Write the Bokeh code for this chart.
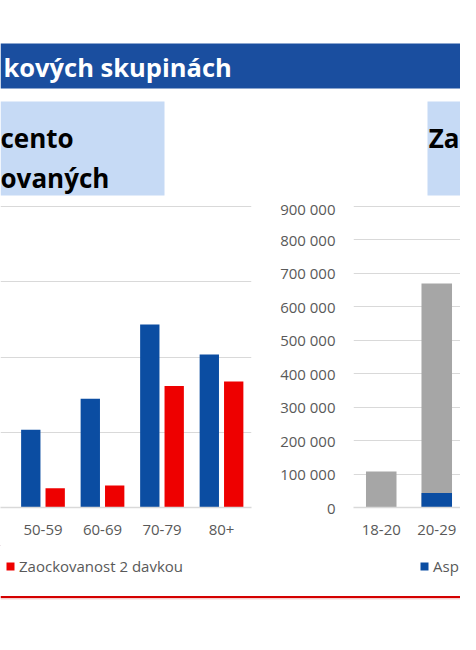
from bokeh.plotting import figure
from bokeh.models import (ColumnDataSource, Range1d, FixedTicker, Legend,
                          LegendItem, BoxAnnotation, Label, Span, Grid)
from bokeh.layouts import column, row
from bokeh.transform import dodge
from bokeh.embed import file_html
from bokeh.resources import INLINE

# ---------------- data ----------------
BANNER_TEXT = "kových skupinách"
LEFT_TITLE_1 = "cento"
LEFT_TITLE_2 = "ovaných"
RIGHT_TITLE = "Za"

LEFT_AGES = ["50-59", "60-69", "70-79", "80+"]
LEFT_DOSE1 = [25.8, 36.1, 60.8, 50.8]      # % (blue)
LEFT_DOSE2 = [6.4, 7.3, 40.4, 41.9]        # % (red)
LEFT_TICKS = [0, 25, 50, 75, 100]
LEFT_LEGEND = "Zaockovanost 2 davkou"

RIGHT_AGES = ["18-20", "20-29"]
RIGHT_POP = [108000, 670000]               # grey
RIGHT_DOSE1 = [0, 43000]                   # blue
RIGHT_TICKS = [0, 100000, 200000, 300000, 400000, 500000, 600000, 700000, 800000, 900000]
RIGHT_TICK_LABELS = ["0", "100 000", "200 000", "300 000", "400 000", "500 000",
                     "600 000", "700 000", "800 000", "900 000"]
RIGHT_LEGEND = "Asp"

# ---------------- style ----------------
BLUE = "#0B4DA2"
RED = "#EE0000"
GREY = "#A6A6A6"
GRIDC = "#D9D9D9"
TXT = "#595959"
BANNER = "#1A4E9F"
BOX = "#C6DAF5"
FONT = "Open Sans"


def blank(w, h, x0, x1, y0, y1):
    f = figure(width=w, height=h, x_range=Range1d(x0, x1), y_range=Range1d(y1, y0),
               x_axis_location=None, y_axis_location=None, toolbar_location=None,
               output_backend="svg", min_border=0)
    f.outline_line_color = None
    f.grid.visible = False
    return f


# ---------------- header ----------------
top = blank(460, 198, 0, 460, 0, 198)
top.add_layout(BoxAnnotation(left=0, right=460, top=43, bottom=88, fill_color=BANNER,
                             fill_alpha=1, line_color=None))
top.add_layout(Label(x=3, y=66, text=BANNER_TEXT, text_baseline="middle", text_color="white",
                     text_font=FONT, text_font_style="bold", text_font_size="25.5px"))
top.add_layout(BoxAnnotation(left=0, right=164, top=101, bottom=195, fill_color=BOX,
                             fill_alpha=1, line_color=None))
top.add_layout(BoxAnnotation(left=427, right=460, top=101, bottom=195, fill_color=BOX,
                             fill_alpha=1, line_color=None))
for txt, xx, yy, al in [(LEFT_TITLE_1, 0, 137, "left"), (LEFT_TITLE_2, 0, 177, "left"),
                        (RIGHT_TITLE, 459, 137, "right")]:
    top.add_layout(Label(x=xx, y=yy, text=txt, text_baseline="alphabetic", text_align=al,
                         text_color="black", text_font=FONT, text_font_style="bold",
                         text_font_size="26px"))


def style_xaxis(f, ticks, labels):
    ax = f.xaxis[0]
    ax.ticker = FixedTicker(ticks=ticks)
    ax.major_label_overrides = dict(zip(ticks, labels))
    ax.axis_line_color = GRIDC
    ax.axis_line_width = 1.5
    ax.major_tick_line_color = None
    ax.minor_tick_line_color = None
    ax.major_tick_out = 0
    ax.major_tick_in = 0
    ax.major_label_standoff = 17
    ax.major_label_text_font = FONT
    ax.major_label_text_font_size = "15px"
    ax.major_label_text_color = TXT


# ---------------- left chart ----------------
LX = list(range(len(LEFT_AGES)))
lsrc = ColumnDataSource(dict(x=LX, d1=LEFT_DOSE1, d2=LEFT_DOSE2))
left = figure(width=262, height=347, x_range=Range1d(-0.714, 3.504),
              y_range=Range1d(0, 100.35), y_axis_location=None, toolbar_location=None,
              output_backend="svg", min_border_left=0, min_border_right=11,
              min_border_top=7, min_border_bottom=38)
left.outline_line_color = None
left.grid.visible = False
left.add_layout(Grid(dimension=1, ticker=FixedTicker(ticks=LEFT_TICKS),
                     grid_line_color=GRIDC, grid_line_width=1.2))
left.vbar(x=dodge("x", -0.205), top="d1", width=0.325, source=lsrc,
          fill_color=BLUE, line_color=None)
left.vbar(x=dodge("x", 0.205), top="d2", width=0.325, source=lsrc,
          fill_color=RED, line_color=None)
style_xaxis(left, LX, LEFT_AGES)

# ---------------- right chart ----------------
RX = list(range(len(RIGHT_AGES)))
rsrc = ColumnDataSource(dict(x=RX, pop=RIGHT_POP, d1=RIGHT_DOSE1))
right = figure(width=198, height=347, x_range=Range1d(-0.5, 1.428),
               y_range=Range1d(0, 903000), toolbar_location=None, output_backend="svg",
               min_border_left=91, min_border_right=0, min_border_top=7, min_border_bottom=38)
right.outline_line_color = None
right.grid.visible = False
right.add_layout(Grid(dimension=1, ticker=FixedTicker(ticks=RIGHT_TICKS),
                      grid_line_color=GRIDC, grid_line_width=1.2))
right.vbar(x="x", top="pop", width=0.55, source=rsrc, fill_color=GREY, line_color=None)
right.vbar(x="x", top="d1", width=0.55, source=rsrc, fill_color=BLUE, line_color=None)
style_xaxis(right, RX, RIGHT_AGES)
yax = right.yaxis[0]
yax.ticker = FixedTicker(ticks=RIGHT_TICKS)
yax.major_label_overrides = dict(zip(RIGHT_TICKS, RIGHT_TICK_LABELS))
yax.axis_line_color = None
yax.major_tick_line_color = None
yax.minor_tick_line_color = None
yax.major_tick_out = 0
yax.major_tick_in = 0
yax.major_label_standoff = 18
yax.major_label_text_font = FONT
yax.major_label_text_font_size = "15px"
yax.major_label_text_color = TXT

# ---------------- footer: legends + rule ----------------
foot = blank(460, 89, 0, 460, 545, 634)
# legend proxies (one point each, placed outside the visible range)
proxy = ColumnDataSource(dict(x=[-1000], top=[1]))
leg_red = foot.vbar(x="x", top="top", width=1, source=proxy, fill_color=RED, line_color=None)
leg_blue = foot.vbar(x="x", top="top", width=1, source=proxy, fill_color=BLUE, line_color=None)


def make_legend(label, rend, loc):
    return Legend(items=[LegendItem(label=label, renderers=[rend])], location=loc,
                  orientation="horizontal", padding=0, margin=0, spacing=0,
                  glyph_width=10, glyph_height=10, label_height=10, label_standoff=4,
                  label_text_font=FONT, label_text_font_size="15px", label_text_color=TXT,
                  border_line_color=None, background_fill_alpha=0)


foot.add_layout(make_legend(LEFT_LEGEND, leg_red, (5, 58)))
foot.add_layout(make_legend(RIGHT_LEGEND, leg_blue, (419, 58)))
foot.add_layout(Span(location=596.5, dimension="width", line_color="#D40000", line_width=2))
foot.add_layout(Span(location=598.3, dimension="width", line_color="#F2B8B8", line_width=1))

page = column(top, row(left, right), foot)
open("out.html", "w").write(file_html(page, INLINE))
